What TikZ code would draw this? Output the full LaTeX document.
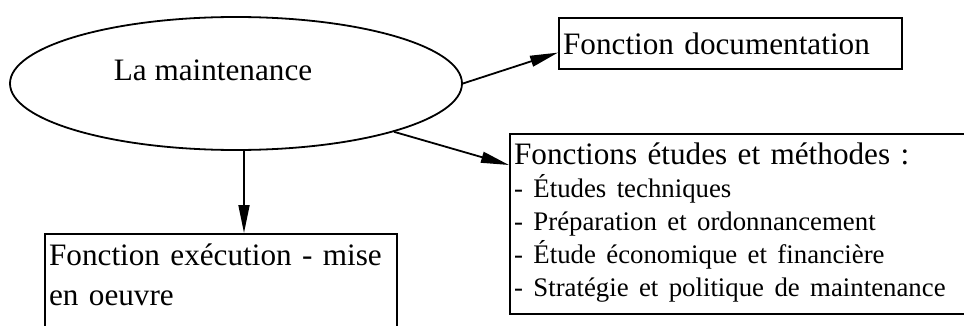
\documentclass[tikz,border=0pt]{standalone}
\usepackage{fontspec}
\setmainfont{Liberation Serif}
\usepackage{tikz}
\usetikzlibrary{shapes.geometric, positioning, arrows.meta, calc}

\newcommand{\itemfont}{\fontsize{13.4}{16.5}\selectfont}

\begin{document}
\begin{tikzpicture}[
  x=0.5pt, y=-0.5pt,
  font=\fontsize{15.6}{16.5}\selectfont,
  box/.style={draw, line width=1.1pt, align=left, inner xsep=2pt, inner ysep=3pt, anchor=north west},
  oval/.style={draw, ellipse, line width=0.9pt, inner sep=0pt},
  arrow/.style={-{Triangle[length=14pt, width=5.5pt]}, line width=0.9pt}
]
\useasboundingbox (0,0) rectangle (964,326);
\clip (0,0) rectangle (964,326);

% ===== La maintenance =====
\node[oval, minimum width=226pt, minimum height=66.5pt] (maint) at (236,83.5) {};
\node (maintlabel) at (213,70) {La maintenance};

% ===== Fonctions =====
\node[box, text width=167.5pt, minimum height=25.5pt] (doc) at (558,17)
{Fonction documentation};

\node[box, text width=250pt, text depth=70pt, inner ysep=4.5pt] (etudes) at (509,133)
{Fonctions études et méthodes :\\
\itemfont - Études techniques\\
\itemfont - Préparation et ordonnancement\\
\itemfont - Étude économique et financière\\
\itemfont - Stratégie et politique de maintenance};

\node[box, text width=172pt, text depth=40pt, inner ysep=5pt,
  font=\fontsize{15.6}{20}\selectfont] (exec) at (44,233)
{Fonction exécution - mise\\
en oeuvre};

% ===== Liens =====
\draw[arrow] (maint.east) -- ([yshift=-4.5pt]doc.west);
\draw[arrow] (maint.-17) -- ([yshift=-16pt]etudes.north west);
\draw[arrow] ([xshift=4pt]maint.south) -- ([xshift=4pt]maint.south |- exec.north);

\end{tikzpicture}
\end{document}
